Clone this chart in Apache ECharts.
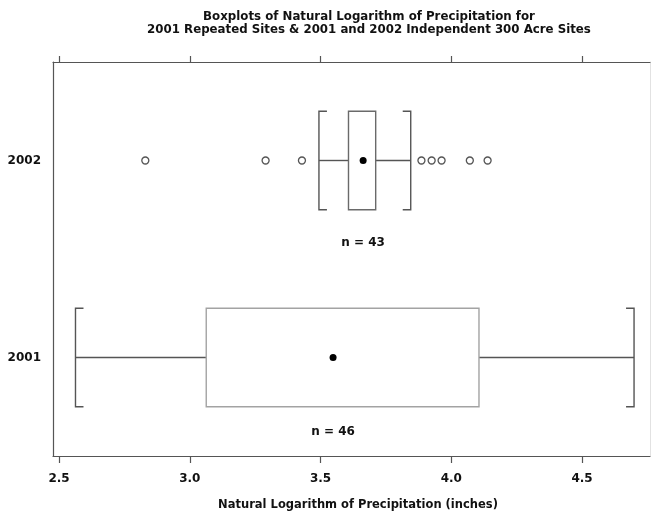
<!DOCTYPE html>
<html>
<head>
<meta charset="utf-8">
<script src="https://cdn.jsdelivr.net/npm/echarts@6/dist/echarts.min.js"></script>
<style>
  html, body { margin: 0; padding: 0; background: #fff; }
  #chart { width: 651px; height: 516px; }
</style>
</head>
<body>
<div id="chart"></div>
<script>
// Summary statistics of ln(precipitation) per sampling year
const categories = ['2001', '2002'];
const whiskerLow = [2.563, 3.494];
const q1 = [3.063, 3.607];
const q3 = [4.106, 3.711];
const whiskerHigh = [4.699, 3.845];
const means = [3.548, 3.663];
const counts = [46, 43];
const outliers2002 = [2.830, 3.290, 3.429, 3.886, 3.925, 3.963, 4.071, 4.139];
const tickValues = [2.5, 3.0, 3.5, 4.0, 4.5];

const FONT = 'DejaVu Sans';
const FRAME = '#555';
const boxColors = ['#a3a3a3', '#6a6a6a'];   // outline colour per row
const labelDy = [74, 82];                    // n-label offset below row centre

const boxRows = categories.map((c, i) => [whiskerLow[i], q1[i], q3[i], whiskerHigh[i], means[i], i]);

function renderBox(params, api) {
  const idx = api.value(5);
  const pLo = api.coord([api.value(0), idx]);
  const cy = pLo[1];
  const xLo = pLo[0];
  const xQ1 = api.coord([api.value(1), idx])[0];
  const xQ3 = api.coord([api.value(2), idx])[0];
  const xHi = api.coord([api.value(3), idx])[0];
  const xMean = api.coord([api.value(4), idx])[0];
  const half = api.size([0, 1])[1] * 0.25;
  const cap = 8;
  const wStyle = { stroke: '#555', lineWidth: 1.4, fill: null };
  return {
    type: 'group',
    children: [
      { type: 'line', shape: { x1: xLo, y1: cy, x2: xQ1, y2: cy }, style: wStyle },
      { type: 'line', shape: { x1: xQ3, y1: cy, x2: xHi, y2: cy }, style: wStyle },
      { type: 'polyline', shape: { points: [[xLo + cap, cy - half], [xLo, cy - half], [xLo, cy + half], [xLo + cap, cy + half]] }, style: wStyle },
      { type: 'polyline', shape: { points: [[xHi - cap, cy - half], [xHi, cy - half], [xHi, cy + half], [xHi - cap, cy + half]] }, style: wStyle },
      { type: 'rect', shape: { x: xQ1, y: cy - half, width: xQ3 - xQ1, height: 2 * half },
        style: { fill: 'rgba(255,255,255,0)', stroke: boxColors[idx], lineWidth: 1.4 } },
      { type: 'text', x: xMean, y: cy + labelDy[idx],
        style: { text: 'n = ' + counts[idx], fontFamily: FONT, fontSize: 12, fontWeight: 'bold',
                 fill: '#111', align: 'center', verticalAlign: 'middle' } }
    ]
  };
}

const chart = echarts.init(document.getElementById('chart'), null, { renderer: 'canvas' });
const axisCommon = { type: 'value', min: 2.477, max: 4.76, splitLine: { show: false } };

chart.setOption({
  animation: false,
  backgroundColor: '#fff',
  title: {
    text: 'Boxplots of Natural Logarithm of Precipitation for\n2001 Repeated Sites & 2001 and 2002 Independent 300 Acre Sites',
    left: 364, top: 5, textAlign: 'center',
    textStyle: { fontFamily: FONT, fontSize: 11.8, fontWeight: 'bold', color: '#111', lineHeight: 13 }
  },
  grid: { left: 53, right: 1, top: 62, bottom: 60 },
  xAxis: [
    Object.assign({}, axisCommon, {
      position: 'bottom',
      axisLine: { show: true, onZero: false, lineStyle: { color: FRAME, width: 1.2 } },
      axisTick: { show: true, customValues: tickValues, length: 7, lineStyle: { color: FRAME, width: 1.2 } },
      axisLabel: { customValues: tickValues, formatter: v => v.toFixed(1), margin: 17,
                   fontFamily: FONT, fontSize: 12, fontWeight: 'bold', color: '#111' }
    }),
    Object.assign({}, axisCommon, {
      position: 'top',
      axisLine: { show: true, onZero: false, lineStyle: { color: FRAME, width: 1.2 } },
      axisTick: { show: true, customValues: tickValues, length: 6, lineStyle: { color: FRAME, width: 1.2 } },
      axisLabel: { show: false }
    })
  ],
  yAxis: [
    {
      type: 'category', data: categories, position: 'left',
      axisLine: { show: true, onZero: false, lineStyle: { color: FRAME, width: 1.2 } },
      axisTick: { show: false },
      axisLabel: { margin: 12, fontFamily: FONT, fontSize: 12, fontWeight: 'bold', color: '#111' }
    },
    {
      type: 'category', data: categories, position: 'right',
      axisLine: { show: true, onZero: false, lineStyle: { color: '#e2e2e2', width: 1 } },
      axisTick: { show: false }, axisLabel: { show: false }
    }
  ],
  graphic: [{
    type: 'text', x: 358, y: 505,
    style: { text: 'Natural Logarithm of Precipitation (inches)', fontFamily: FONT, fontSize: 11.5,
             fontWeight: 'bold', fill: '#111', align: 'center', verticalAlign: 'middle' }
  }],
  series: [
    {
      type: 'custom', xAxisIndex: 0, yAxisIndex: 0,
      renderItem: renderBox,
      encode: { x: [0, 1, 2, 3, 4], y: 5 },
      data: boxRows, z: 2
    },
    {
      type: 'scatter', xAxisIndex: 0, yAxisIndex: 0,
      symbol: 'circle', symbolSize: 7,
      itemStyle: { color: '#fff', borderColor: '#555', borderWidth: 1.3, opacity: 1 },
      data: outliers2002.map(v => [v, categories.indexOf('2002')]), z: 3
    },
    {
      type: 'scatter', xAxisIndex: 0, yAxisIndex: 0,
      symbol: 'circle', symbolSize: 7,
      itemStyle: { color: '#000', opacity: 1 },
      data: means.map((m, i) => [m, i]), z: 4
    }
  ]
});
</script>
</body>
</html>
